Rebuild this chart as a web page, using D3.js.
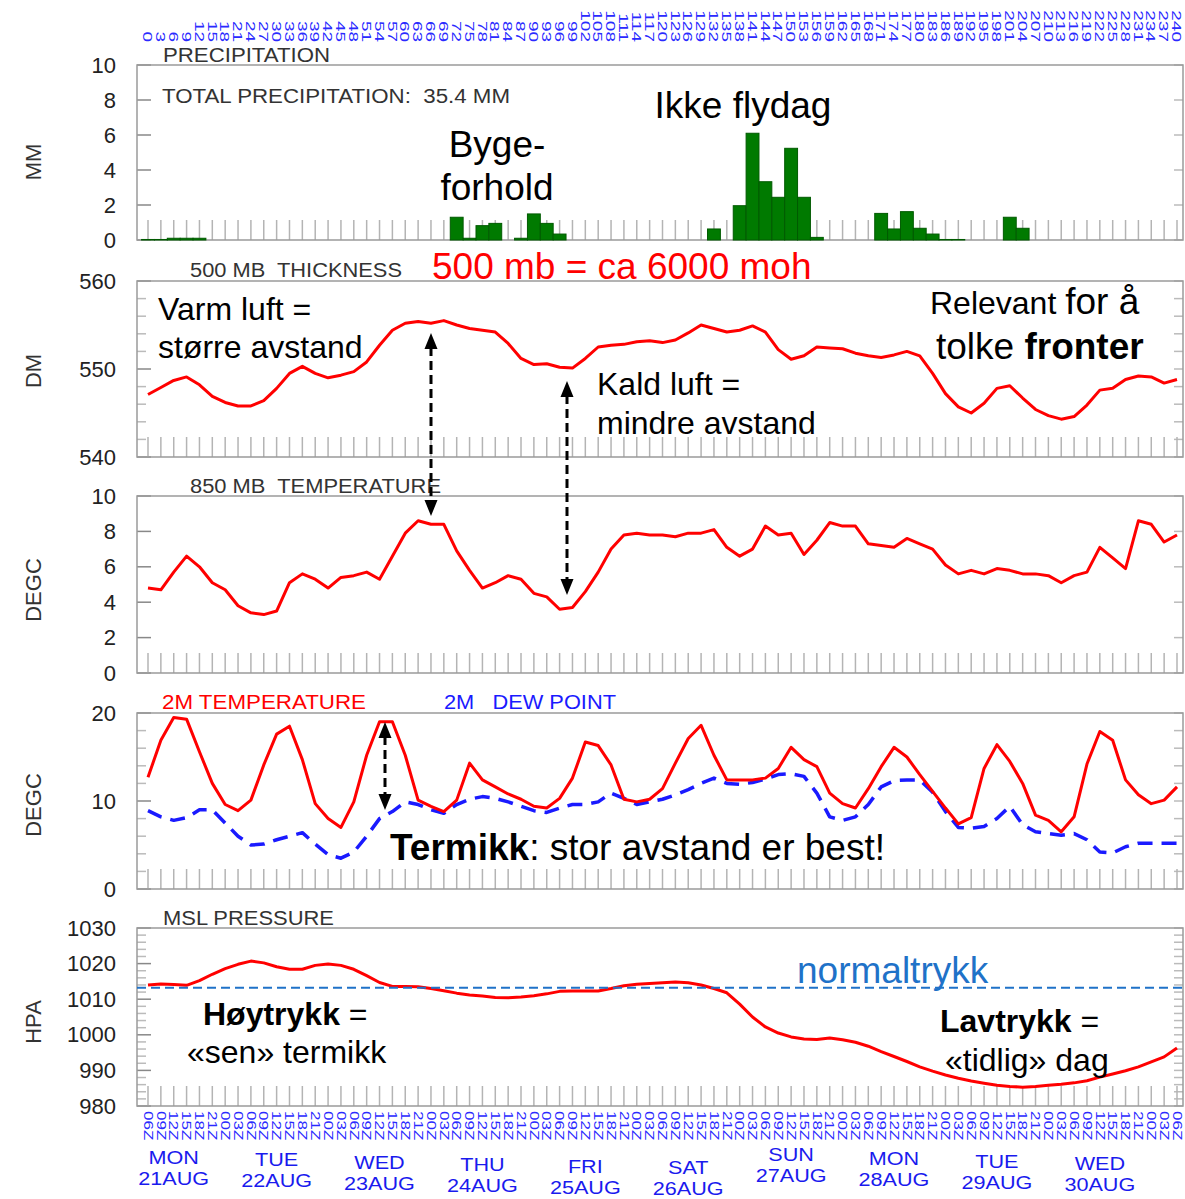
<!DOCTYPE html>
<html>
<head>
<meta charset="utf-8">
<script src="https://cdn.jsdelivr.net/npm/d3@7/dist/d3.min.js"></script>
<style>
  body { margin: 0; background: #fff; }
  svg { font-family: 'Liberation Sans', Arial, sans-serif; }
</style>
</head>
<body>
<svg id="vis" width="1185" height="1199"></svg>
<script>
// forecast hours, 3-hourly from 21 Aug 06Z
const hours = d3.range(0, 241, 3);
const clockHours = ['06', '09', '12', '15', '18', '21', '00', '03'];
const dayNames = ['MON', 'TUE', 'WED', 'THU', 'FRI', 'SAT', 'SUN', 'MON', 'TUE', 'WED'];
const dayDates = ['21AUG', '22AUG', '23AUG', '24AUG', '25AUG', '26AUG', '27AUG', '28AUG', '29AUG', '30AUG'];

const precip = [
  0.03, 0.03, 0.1, 0.1, 0.1, 0, 0, 0, 0, 0,
  0, 0, 0, 0, 0, 0, 0, 0, 0, 0,
  0, 0, 0, 0, 1.3, 0.1, 0.82, 0.95, 0, 0.1,
  1.49, 0.95, 0.34, 0, 0, 0, 0, 0, 0, 0,
  0, 0, 0, 0, 0.63, 0, 1.96, 6.1, 3.33, 2.44,
  5.24, 2.44, 0.15, 0, 0, 0, 0, 1.52, 0.63, 1.62,
  0.67, 0.34, 0.03, 0.03, 0, 0, 0, 1.3, 0.67, 0,
  0, 0, 0, 0, 0, 0, 0, 0, 0, 0,
  0];
const thickness = [
  547.1, 547.9, 548.7, 549.1, 548.2, 546.9, 546.2, 545.8, 545.8, 546.4,
  547.8, 549.5, 550.3, 549.5, 549.0, 549.3, 549.7, 550.8, 552.7, 554.4,
  555.2, 555.4, 555.2, 555.5, 555.0, 554.6, 554.4, 554.2, 552.9, 551.2,
  550.5, 550.6, 550.2, 550.1, 551.2, 552.5, 552.7, 552.8, 553.1, 553.2,
  553.0, 553.3, 554.1, 555.0, 554.6, 554.2, 554.4, 554.9, 554.2, 552.2,
  551.1, 551.5, 552.5, 552.4, 552.3, 551.8, 551.5, 551.3, 551.6, 552.0,
  551.5, 549.5, 547.2, 545.7, 545.0, 546.1, 547.8, 548.1, 546.7, 545.4,
  544.7, 544.3, 544.6, 545.9, 547.6, 547.8, 548.8, 549.2, 549.1, 548.4,
  548.8];
const t850 = [
  4.8, 4.7, 5.7, 6.6, 6.0, 5.1, 4.7, 3.8, 3.4, 3.3,
  3.5, 5.1, 5.6, 5.3, 4.8, 5.4, 5.5, 5.7, 5.3, 6.6,
  7.9, 8.6, 8.4, 8.4, 6.9, 5.8, 4.8, 5.1, 5.5, 5.3,
  4.5, 4.3, 3.6, 3.7, 4.6, 5.7, 7.0, 7.8, 7.9, 7.8,
  7.8, 7.7, 7.9, 7.9, 8.1, 7.1, 6.6, 7.0, 8.3, 7.8,
  7.9, 6.7, 7.5, 8.5, 8.3, 8.3, 7.3, 7.2, 7.1, 7.6,
  7.3, 7.0, 6.1, 5.6, 5.8, 5.6, 5.9, 5.8, 5.6, 5.6,
  5.5, 5.1, 5.5, 5.7, 7.1, 6.5, 5.9, 8.6, 8.4, 7.4,
  7.8];
const t2m = [
  12.7, 16.9, 19.5, 19.3, 15.6, 12.0, 9.6, 8.9, 10.1, 14.1,
  17.6, 18.5, 14.7, 9.7, 8.0, 7.0, 9.9, 15.2, 19.0, 19.0,
  15.2, 10.1, 9.4, 8.8, 10.1, 14.3, 12.4, 11.6, 10.8, 10.2,
  9.4, 9.2, 10.3, 12.6, 16.7, 16.3, 14.1, 10.2, 9.9, 10.2,
  11.4, 14.3, 17.1, 18.6, 15.2, 12.4, 12.4, 12.4, 12.6, 13.7,
  16.1, 14.7, 13.9, 10.9, 9.7, 9.2, 11.4, 13.9, 16.1, 15.0,
  13.0, 11.1, 9.2, 7.4, 8.1, 13.7, 16.4, 14.5, 12.0, 8.4,
  7.8, 6.5, 8.2, 14.2, 17.9, 16.9, 12.4, 10.7, 9.7, 10.1,
  11.6];
const dewPoint = [
  8.9, 8.2, 7.8, 8.1, 9.0, 9.0, 7.5, 6.0, 5.0, 5.1,
  5.6, 6.0, 6.4, 5.1, 3.9, 3.5, 4.2, 6.0, 8.0, 8.8,
  9.9, 9.6, 9.0, 8.6, 9.6, 10.2, 10.5, 10.3, 9.9, 9.4,
  8.9, 8.7, 9.2, 9.6, 9.6, 9.9, 10.9, 10.3, 9.6, 9.9,
  10.2, 10.7, 11.3, 12.0, 12.6, 12.0, 11.9, 12.1, 12.5, 13.0,
  13.1, 12.8, 10.9, 8.2, 7.8, 8.2, 9.6, 11.6, 12.3, 12.4,
  12.4, 11.0, 8.8, 7.0, 6.9, 7.1, 8.0, 9.4, 7.3, 6.5,
  6.3, 6.1, 6.3, 5.6, 4.2, 4.1, 4.8, 5.2, 5.2, 5.2,
  5.2];
const mslp = [
  1014.0, 1014.3, 1014.1, 1013.9, 1015.2, 1017.0, 1018.6, 1019.8, 1020.7, 1020.2,
  1019.1, 1018.4, 1018.4, 1019.5, 1019.9, 1019.5, 1018.4, 1016.6, 1014.7, 1013.6,
  1013.6, 1013.5, 1013.0, 1012.4, 1011.7, 1011.2, 1010.9, 1010.5, 1010.4, 1010.6,
  1011.0, 1011.5, 1012.2, 1012.3, 1012.3, 1012.3, 1013.0, 1013.8, 1014.2, 1014.4,
  1014.6, 1014.8, 1014.6, 1014.0, 1013.0, 1011.8, 1008.6, 1005.0, 1002.2, 1000.5,
  999.4, 998.8, 998.7, 999.1, 998.6, 997.9, 996.8, 995.3, 993.9, 992.5,
  991.0, 989.8, 988.7, 987.8, 987.0, 986.4, 985.8, 985.5, 985.3, 985.5,
  985.8, 986.1, 986.5, 987.1, 988.1, 989.0, 989.9, 991.0, 992.4, 993.8,
  996.3];
const normalPressure = 1013.25;

const vis = d3.select('#vis');
const left = 137, right = 1183;
const x = d3.scaleLinear().domain([0, 240]).range([148, 1177]);
const step = x(3) - x(0);
const font = "'Liberation Sans', Arial, sans-serif";

function panel(top, bottom, domain, labels, minor) {
  const y = d3.scaleLinear().domain(domain).range([bottom, top]);
  const g = vis.append('g');
  const mt = d3.range(domain[0], domain[1] + 1e-6, minor);
  g.selectAll('line.ml').data(mt).join('line')
      .attr('x1', left).attr('x2', d => left + (labels.includes(d) ? 14 : 9))
      .attr('y1', d => y(d)).attr('y2', d => y(d))
      .attr('stroke', d => labels.includes(d) ? '#888' : '#bbb').attr('stroke-width', 1.5);
  g.selectAll('line.mr').data(mt).join('line')
      .attr('x1', right).attr('x2', right - 9)
      .attr('y1', d => y(d)).attr('y2', d => y(d))
      .attr('stroke', '#bbb').attr('stroke-width', 1.5);
  g.selectAll('line.ht').data(hours).join('line')
      .attr('x1', d => x(d)).attr('x2', d => x(d))
      .attr('y1', bottom).attr('y2', bottom - 20)
      .attr('stroke', '#b4b4b4').attr('stroke-width', 1.5);
  g.append('rect')
      .attr('x', left).attr('y', top)
      .attr('width', right - left).attr('height', bottom - top)
      .attr('fill', 'none').attr('stroke', '#9a9a9a').attr('stroke-width', 1.5);
  g.append('g')
      .attr('transform', `translate(${left},0)`)
      .call(d3.axisLeft(y).tickValues(labels).tickFormat(d3.format('d')).tickSize(0).tickPadding(21))
      .call(a => a.select('.domain').remove())
      .attr('font-size', 22).attr('font-family', font)
      .selectAll('text').attr('fill', '#222');
  return {y, g};
}

function label(txt, px, py, size, opts = {}) {
  const t = vis.append('text')
      .attr('x', px).attr('y', py)
      .attr('font-size', size)
      .attr('fill', opts.fill || '#000')
      .attr('text-anchor', opts.anchor || 'start')
      .style('white-space', 'pre');
  if (opts.len) t.attr('textLength', opts.len).attr('lengthAdjust', 'spacingAndGlyphs');
  if (Array.isArray(txt)) {
    txt.forEach(p => t.append('tspan').text(p[0])
        .attr('font-weight', p[1] ? 'bold' : null)
        .attr('font-size', p[2] || null));
  } else {
    t.text(txt);
  }
  return t;
}

function yTitle(txt, py) {
  vis.append('text')
      .attr('transform', `translate(33,${py}) rotate(-90)`)
      .attr('text-anchor', 'middle').attr('dy', '0.35em')
      .attr('font-size', 22).attr('fill', '#333')
      .text(txt);
}

function arrow(px, y1, y2) {
  const head = 16, hw = 6.5;
  vis.append('line')
      .attr('x1', px).attr('x2', px).attr('y1', y1 + head - 2).attr('y2', y2 - head + 2)
      .attr('stroke', '#000').attr('stroke-width', 3).attr('stroke-dasharray', '9,5');
  vis.append('path')
      .attr('d', `M${px},${y1}L${px - hw},${y1 + head}L${px + hw},${y1 + head}Z` +
                 `M${px},${y2}L${px - hw},${y2 - head}L${px + hw},${y2 - head}Z`)
      .attr('fill', '#000');
}

// panels
const pP = panel(65, 240, [0, 10], [0, 2, 4, 6, 8, 10], 2);
const pT = panel(281, 457, [540, 560], [540, 550, 560], 2);
const p8 = panel(496, 673, [0, 10], [0, 2, 4, 6, 8, 10], 2);
const p2 = panel(713, 889, [0, 20], [0, 10, 20], 2);
const pM = panel(928, 1106, [980, 1030], [980, 990, 1000, 1010, 1020, 1030], 2);

// precipitation bars
pP.g.selectAll('rect.bar').data(precip).join('rect')
    .attr('x', (d, i) => x(hours[i]) - step / 2)
    .attr('width', step)
    .attr('y', d => pP.y(d))
    .attr('height', d => pP.y(0) - pP.y(d))
    .attr('fill', '#007a00')
    .attr('stroke', '#005a00').attr('stroke-width', d => d > 0 ? 1 : 0);

function series(p, values, color, dash) {
  const line = d3.line().x((d, i) => x(hours[i])).y(d => p.y(d));
  p.g.append('path').datum(values)
      .attr('d', line)
      .attr('fill', 'none')
      .attr('stroke', color)
      .attr('stroke-width', dash ? 3.5 : 3)
      .attr('stroke-linejoin', 'round')
      .attr('stroke-dasharray', dash || null);
}

series(pT, thickness, '#ff0000');
series(p8, t850, '#ff0000');
series(p2, dewPoint, '#1a1aff', '15,9');
series(p2, t2m, '#ff0000');
series(pM, mslp, '#ff0000');

pM.g.append('line')
    .attr('x1', left).attr('x2', right)
    .attr('y1', pM.y(normalPressure)).attr('y2', pM.y(normalPressure))
    .attr('stroke', '#1f72c8').attr('stroke-width', 2).attr('stroke-dasharray', '9,5');

// panel titles
label('PRECIPITATION', 163, 62, 21, {fill: '#333', len: 167});
label('TOTAL PRECIPITATION:  35.4 MM', 162, 103, 20, {fill: '#333', len: 348});
label('500 MB  THICKNESS', 190, 277, 20, {fill: '#333', len: 212});
label('850 MB  TEMPERATURE', 190, 493, 20, {fill: '#333', len: 251});
label('2M TEMPERATURE', 162, 709, 20, {fill: '#ff0000', len: 204});
label('2M   DEW POINT', 444, 709, 20, {fill: '#1a1aff', len: 172});
label('MSL PRESSURE', 163, 925, 20, {fill: '#333', len: 171});

yTitle('MM', 162);
yTitle('DM', 371);
yTitle('DEGC', 590);
yTitle('DEGC', 805);
yTitle('HPA', 1022);

// forecast hour labels on top, clock hours below
vis.append('g').selectAll('text').data(hours).join('text')
    .attr('transform', d => `translate(${x(d)},42) rotate(90) scale(1,0.72)`)
    .attr('text-anchor', 'end').attr('dy', '0.35em')
    .attr('font-size', 19).attr('fill', '#2a2aff')
    .text(d => String(d));
vis.append('g').selectAll('text').data(hours).join('text')
    .attr('transform', d => `translate(${x(d)},1111) rotate(90) scale(1,0.72)`)
    .attr('text-anchor', 'start').attr('dy', '0.35em')
    .attr('font-size', 17).attr('fill', '#2a2aff')
    .text((d, i) => clockHours[i % 8] + 'Z');

// day labels (noon of each day), slightly stretched like the original
const dayDy = [0, 2, 5, 7, 9, 10, -3, 1, 4, 6];
dayNames.forEach((n, i) => {
  const cx = x(6 + 24 * i);
  [n, dayDates[i]].forEach((s, k) => {
    const t = vis.append('text')
        .attr('x', cx).attr('y', 1164 + dayDy[i] + k * 21)
        .attr('text-anchor', 'middle')
        .attr('font-size', 18).attr('fill', '#1a1aee')
        .text(s);
    t.attr('textLength', t.node().getComputedTextLength() * 1.2)
        .attr('lengthAdjust', 'spacingAndGlyphs');
  });
});

// annotations
label('Ikke flydag', 743, 118, 37, {anchor: 'middle'});
label('Byge-', 497, 157, 37, {anchor: 'middle'});
label('forhold', 497, 200, 37, {anchor: 'middle'});
label('500 mb = ca 6000 moh', 432, 279, 37, {fill: '#ff0000'});
label('Varm luft =', 158, 320, 32);
label('større avstand', 158, 358, 32);
label([['Relevant ', false, 32], ['for å', false, 37]], 930, 314, 37);
label([['tolke ', false], ['fronter', true]], 936, 359, 37);
label('Kald luft =', 597, 395, 32);
label('mindre avstand', 597, 434, 32);
label([['Termikk', true], [': stor avstand er best!', false]], 390, 860, 37);
label('normaltrykk', 797, 983, 37, {fill: '#1f72c8'});
label([['Høytrykk', true], [' =', false]], 203, 1025, 32);
label('«sen» termikk', 187, 1063, 32);
label([['Lavtrykk', true], [' =', false]], 940, 1032, 32);
label('«tidlig» dag', 945, 1071, 32);

arrow(431, 333, 516);
arrow(567, 381, 595);
arrow(385, 722, 810);
</script>
</body>
</html>
